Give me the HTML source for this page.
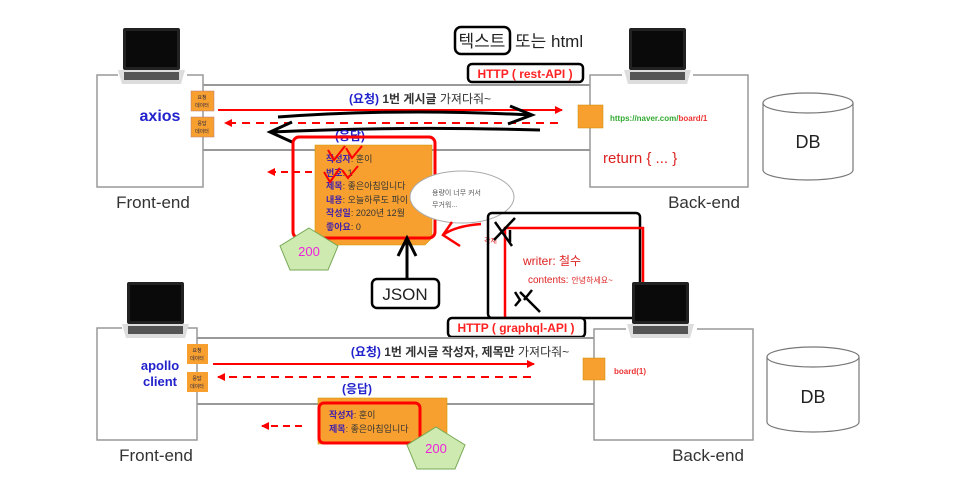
<!DOCTYPE html>
<html><head><meta charset="utf-8"><style>
html,body{margin:0;padding:0;background:#fff}
svg{display:block}
text{font-family:"Liberation Sans","Noto Sans CJK KR",sans-serif}
</style></head><body>
<svg width="959" height="487" viewBox="0 0 959 487" xmlns="http://www.w3.org/2000/svg">
<defs>
<marker id="ar" markerWidth="8" markerHeight="8" refX="7" refY="4" orient="auto" markerUnits="userSpaceOnUse"><path d="M0,0 L8,4 L0,8 z" fill="#f00"/></marker>
<g id="lap">
<rect x="5" y="0" width="57" height="42" rx="2" fill="#222"/>
<rect x="8" y="3" width="51" height="36" fill="#0a0a0a"/>
<path d="M0,42 L67,42 L63,56 L4,56 z" fill="#ddd"/>
<rect x="6" y="44" width="55" height="8" fill="#555"/>
</g>
</defs>

<!-- TOP -->
<polyline points="118,75 97,75 97,187 203,187 203,75 187,75" fill="none" stroke="#999" stroke-width="1.5"/>
<use href="#lap" x="118" y="28"/>
<line x1="203" y1="85" x2="590" y2="85" stroke="#999" stroke-width="2"/>
<line x1="203" y1="150" x2="590" y2="150" stroke="#999" stroke-width="2"/>
<polyline points="622,75 590,75 590,187 748,187 748,75 693,75" fill="none" stroke="#999" stroke-width="1.5"/>
<use href="#lap" x="624" y="28"/>
<path d="M763,103 L763,170 A45,10 0 0 0 853,170 L853,103" fill="#fff" stroke="#777" stroke-width="1.2"/>
<ellipse cx="808" cy="103" rx="45" ry="10" fill="#fff" stroke="#777" stroke-width="1.2"/>
<text x="808" y="148" font-size="18" text-anchor="middle" fill="#222">DB</text>
<text x="153" y="208" font-size="17" text-anchor="middle" fill="#333">Front-end</text>
<text x="704" y="208" font-size="17" text-anchor="middle" fill="#333">Back-end</text>

<text x="160" y="121" font-size="16" font-weight="bold" text-anchor="middle" fill="#2222cc">axios</text>
<rect x="191" y="91" width="23" height="20" fill="#f7a030" stroke="#b77" stroke-width=".5"/>
<text x="202" y="99" font-size="5" text-anchor="middle" fill="#224">요청</text><text x="202" y="107" font-size="5" text-anchor="middle" fill="#224">데이터</text>
<rect x="191" y="117" width="23" height="20" fill="#f7a030" stroke="#b77" stroke-width=".5"/>
<text x="202" y="125" font-size="5" text-anchor="middle" fill="#224">응답</text><text x="202" y="133" font-size="5" text-anchor="middle" fill="#224">데이터</text>

<text x="420" y="103" font-size="12" text-anchor="middle" fill="#333"><tspan fill="#2222cc" font-weight="bold">(요청)</tspan><tspan font-weight="bold"> 1번 게시글</tspan> 가져다줘~</text>
<line x1="218" y1="110" x2="562" y2="110" stroke="#f00" stroke-width="2" marker-end="url(#ar)"/>
<line x1="558" y1="123" x2="225" y2="123" stroke="#f00" stroke-width="2" stroke-dasharray="8,6" marker-end="url(#ar)"/>
<path d="M278,117 Q400,108 530,115 M510,106 L532,115 L508,124" fill="none" stroke="#000" stroke-width="3"/>
<path d="M540,130 Q400,126 272,132 M292,122 L270,132 L292,142" fill="none" stroke="#000" stroke-width="3"/>
<rect x="578" y="105" width="25" height="23" fill="#f7a030" stroke="#c80" stroke-width=".5"/>
<text x="610" y="121" font-size="8" font-weight="bold" fill="#3a3"> https://naver.com/<tspan fill="#e33">board/1</tspan></text>
<text x="603" y="163" font-size="15" fill="#d22">return { ... }</text>

<rect x="455" y="27" width="55" height="27" rx="6" fill="none" stroke="#000" stroke-width="2.5"/>
<text x="482" y="47" font-size="17" text-anchor="middle" fill="#222">텍스트</text>
<text x="515" y="47" font-size="17" fill="#222">또는 html</text>
<rect x="468" y="64" width="115" height="18" rx="4" fill="none" stroke="#000" stroke-width="2.5"/>
<text x="525" y="78" font-size="12" font-weight="bold" text-anchor="middle" fill="#f22">HTTP ( rest-API )</text>

<path d="M315,145 L432,145 L432,238 L425,245 L315,245 z" fill="#f7a030" stroke="#c90" stroke-width=".6"/>
<text x="350" y="140" font-size="12" font-weight="bold" text-anchor="middle" fill="#2222cc">(응답)</text>
<g font-size="9" fill="#333">
<text x="326" y="162"><tspan fill="#4422aa" font-weight="bold">작성자</tspan>: 훈이</text>
<text x="326" y="176"><tspan fill="#4422aa" font-weight="bold">번호</tspan>: 1</text>
<text x="326" y="189"><tspan fill="#4422aa" font-weight="bold">제목</tspan>: 좋은아침입니다</text>
<text x="326" y="203"><tspan fill="#4422aa" font-weight="bold">내용</tspan>: 오늘하루도 파이</text>
<text x="326" y="216"><tspan fill="#4422aa" font-weight="bold">작성일</tspan>: 2020년 12월</text>
<text x="326" y="230"><tspan fill="#4422aa" font-weight="bold">좋아요</tspan>: 0</text>
</g>
<path d="M328,150 L334,160 L345,146 M346,148 L352,158 L362,146 M324,172 L330,182 L340,168 M342,170 L348,178 L358,166" fill="none" stroke="#f00" stroke-width="2"/>
<line x1="312" y1="172" x2="268" y2="172" stroke="#f00" stroke-width="2" stroke-dasharray="7,5" marker-end="url(#ar)"/>
<rect x="293" y="137" width="142" height="101" rx="6" fill="none" stroke="#f00" stroke-width="3"/>
<ellipse cx="462" cy="197" rx="52" ry="26" fill="#fff" stroke="#aaa" stroke-width="1"/>
<text x="432" y="195" font-size="7" fill="#555">용량이 너무 커서</text>
<text x="432" y="207" font-size="7" fill="#555">무거워...</text>
<path d="M481,224 Q455,226 443,235 M452,222 L443,235 L460,246" fill="none" stroke="#f00" stroke-width="2.5"/>
<text x="484" y="243" font-size="7" fill="#d22">각제</text>
<polygon points="309,228 338,246 328,270 290,270 280,246" fill="#cfeab0" stroke="#7a5" stroke-width="1"/>
<text x="309" y="256" font-size="13" text-anchor="middle" fill="#e2d">200</text>
<path d="M407,278 L407,240 M398,256 L407,238 L416,256" fill="none" stroke="#000" stroke-width="3"/>
<rect x="372" y="279" width="67" height="29" rx="5" fill="#fff" stroke="#000" stroke-width="2.5"/>
<text x="405" y="300" font-size="17" text-anchor="middle" fill="#222">JSON</text>

<rect x="488" y="213" width="152" height="105" rx="4" fill="none" stroke="#000" stroke-width="2.5"/>
<path d="M505,318 L505,228 L643,228 L643,318" fill="none" stroke="#f00" stroke-width="2.5"/>
<path d="M495,222 L512,246 M494,240 L515,218 M510,230 L510,242" fill="none" stroke="#000" stroke-width="2.5"/>
<text x="523" y="265" font-size="12" fill="#d22">writer: 철수</text>
<text x="528" y="283" font-size="10" fill="#d22">contents: <tspan font-size="8">안녕하세요~</tspan></text>
<path d="M515,292 L520,300 L515,306 M520,292 L540,312 M524,300 L532,290" fill="none" stroke="#000" stroke-width="2.5"/>
<rect x="448" y="318" width="137" height="19" rx="4" fill="#fff" stroke="#000" stroke-width="2.5"/>
<text x="516" y="332" font-size="12" font-weight="bold" text-anchor="middle" fill="#f22">HTTP ( graphql-API )</text>

<!-- BOTTOM -->
<polyline points="122,328 97,328 97,440 197,440 197,328 184,328" fill="none" stroke="#999" stroke-width="1.5"/>
<use href="#lap" x="122" y="282"/>
<line x1="197" y1="338" x2="594" y2="338" stroke="#999" stroke-width="2"/>
<line x1="197" y1="404" x2="594" y2="404" stroke="#999" stroke-width="2"/>
<polyline points="626,329 594,329 594,440 753,440 753,329 697,329" fill="none" stroke="#999" stroke-width="1.5"/>
<use href="#lap" x="627" y="282"/>
<path d="M767,357 L767,422 A46,10 0 0 0 859,422 L859,357" fill="#fff" stroke="#777" stroke-width="1.2"/>
<ellipse cx="813" cy="357" rx="46" ry="10" fill="#fff" stroke="#777" stroke-width="1.2"/>
<text x="813" y="403" font-size="18" text-anchor="middle" fill="#222">DB</text>
<text x="156" y="461" font-size="17" text-anchor="middle" fill="#333">Front-end</text>
<text x="708" y="461" font-size="17" text-anchor="middle" fill="#333">Back-end</text>

<text x="160" y="370" font-size="13" font-weight="bold" text-anchor="middle" fill="#2222cc">apollo</text>
<text x="160" y="386" font-size="13" font-weight="bold" text-anchor="middle" fill="#2222cc">client</text>
<rect x="187" y="344" width="21" height="20" fill="#f7a030"/>
<text x="197" y="352" font-size="5" text-anchor="middle" fill="#224">요청</text><text x="197" y="360" font-size="5" text-anchor="middle" fill="#224">데이터</text>
<rect x="187" y="372" width="21" height="20" fill="#f7a030"/>
<text x="197" y="380" font-size="5" text-anchor="middle" fill="#224">응답</text><text x="197" y="388" font-size="5" text-anchor="middle" fill="#224">데이터</text>
<text x="460" y="356" font-size="12" text-anchor="middle" fill="#333"><tspan fill="#2222cc" font-weight="bold">(요청)</tspan><tspan font-weight="bold"> 1번 게시글 작성자, 제목만</tspan> 가져다줘~</text>
<line x1="213" y1="364" x2="534" y2="364" stroke="#f00" stroke-width="2" marker-end="url(#ar)"/>
<line x1="531" y1="377" x2="218" y2="377" stroke="#f00" stroke-width="2" stroke-dasharray="8,6" marker-end="url(#ar)"/>
<rect x="583" y="358" width="22" height="22" fill="#f7a030" stroke="#c80" stroke-width=".5"/>
<text x="614" y="374" font-size="8" font-weight="bold" fill="#e33">board(1)</text>
<text x="357" y="393" font-size="12" font-weight="bold" text-anchor="middle" fill="#2222cc">(응답)</text>
<rect x="318" y="398" width="129" height="46" fill="#f7a030" stroke="#c90" stroke-width=".6"/>
<g font-size="9" fill="#333">
<text x="329" y="418"><tspan fill="#4422aa" font-weight="bold">작성자</tspan>: 훈이</text>
<text x="329" y="432"><tspan fill="#4422aa" font-weight="bold">제목</tspan>: 좋은아침입니다</text>
</g>
<rect x="319" y="403" width="101" height="40" rx="5" fill="none" stroke="#f00" stroke-width="3"/>
<line x1="302" y1="426" x2="262" y2="426" stroke="#f00" stroke-width="2" stroke-dasharray="7,5" marker-end="url(#ar)"/>
<polygon points="436,427 465,445 455,469 417,469 407,445" fill="#cfeab0" stroke="#7a5" stroke-width="1"/>
<text x="436" y="453" font-size="13" text-anchor="middle" fill="#e2d">200</text>
</svg>
</body></html>
